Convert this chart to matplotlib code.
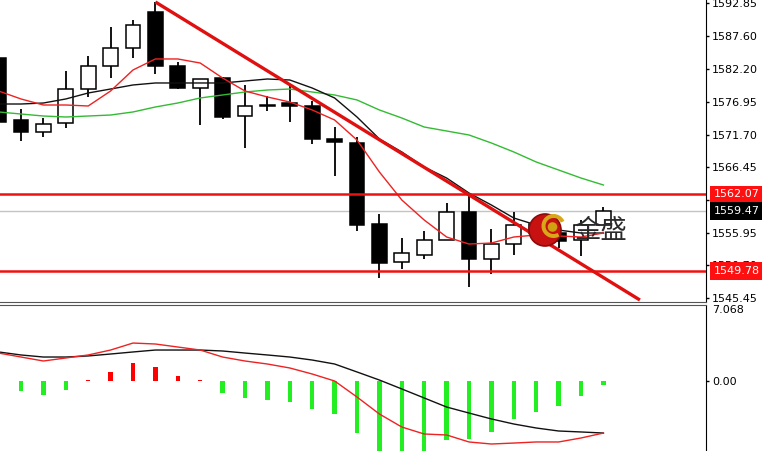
import matplotlib.pyplot as plt
import numpy as np
from matplotlib.patches import Circle, Wedge
from matplotlib.transforms import blended_transform_factory

# candles (index 0 is cut off at the left edge)
opens = [1584.0, 1574.04, 1572.11, 1573.56, 1579.02, 1582.72, 1585.62, 1591.40, 1582.72, 1579.18,
         1580.79, 1574.68, 1576.50, 1576.77, 1576.29, 1570.99, 1570.40, 1557.32, 1551.21, 1552.34,
         1554.75, 1559.25, 1551.69, 1554.10, 1557.30, 1555.80, 1554.75, 1557.16]
closes = [1573.72, 1572.11, 1573.40, 1579.02, 1582.72, 1585.62, 1589.31, 1582.72, 1579.18, 1580.63,
          1574.52, 1576.29, 1576.30, 1576.29, 1570.99, 1570.50, 1557.16, 1551.05, 1552.66, 1554.75,
          1559.25, 1551.69, 1554.10, 1557.16, 1555.90, 1554.60, 1557.16, 1559.47]
highs = [1584.3, 1575.81, 1574.36, 1581.92, 1584.33, 1588.99, 1590.12, 1593.01, 1583.36, 1580.63,
         1580.95, 1579.67, 1577.90, 1579.51, 1577.09, 1572.91, 1571.31, 1558.93, 1555.07, 1556.19,
         1560.70, 1561.98, 1556.52, 1559.25, 1558.50, 1556.50, 1558.00, 1560.05]
lows = [1573.5, 1570.66, 1571.31, 1572.75, 1577.74, 1580.79, 1584.01, 1581.43, 1579.02, 1573.24,
        1574.20, 1569.54, 1575.49, 1573.72, 1570.18, 1565.04, 1556.19, 1548.64, 1550.09, 1551.69,
        1554.75, 1547.19, 1549.28, 1552.34, 1554.50, 1553.50, 1552.17, 1557.16]

# moving averages
ma_red = [1578.70, 1577.42, 1576.45, 1576.45, 1576.29, 1578.70, 1582.08, 1583.85, 1583.85, 1583.20,
          1580.79, 1578.70, 1577.74, 1576.93, 1575.65, 1574.04, 1570.82, 1565.68, 1561.18, 1557.96,
          1555.23, 1554.10, 1554.26, 1555.23, 1555.55, 1555.39, 1555.23, 1555.87]
ma_black = [1576.61, 1576.61, 1576.77, 1577.42, 1578.38, 1579.02, 1579.67, 1579.99, 1579.99, 1579.99,
            1579.99, 1580.31, 1580.63, 1580.47, 1579.18, 1577.58, 1574.52, 1570.99, 1568.90, 1566.48,
            1564.71, 1562.30, 1560.37, 1558.28, 1557.16, 1556.35, 1555.87, 1555.87]
ma_green = [1575.33, 1575.00, 1574.68, 1574.52, 1574.68, 1574.84, 1575.33, 1576.13, 1576.77, 1577.58,
            1578.06, 1578.54, 1578.86, 1579.02, 1578.54, 1578.06, 1577.26, 1575.65, 1574.36, 1572.91,
            1572.27, 1571.63, 1570.34, 1568.90, 1567.29, 1566.00, 1564.71, 1563.59]

# MACD panel
hist = [np.nan, -0.93, -1.30, -0.84, 0.09, 0.84, 1.67, 1.30, 0.47, 0.09,
        -1.12, -1.58, -1.77, -1.95, -2.60, -3.07, -4.84, -7.2, -7.0, -6.9,
        -5.49, -5.40, -4.74, -3.53, -2.88, -2.33, -1.40, -0.37]
macd_black = [2.70, 2.42, 2.23, 2.23, 2.33, 2.51, 2.70, 2.88, 2.88, 2.88,
              2.79, 2.60, 2.42, 2.23, 1.95, 1.58, 0.84, 0.09, -0.74, -1.58,
              -2.42, -2.98, -3.53, -4.00, -4.37, -4.65, -4.74, -4.84]
macd_red = [2.60, 2.23, 1.86, 2.14, 2.42, 2.88, 3.53, 3.44, 3.16, 2.88,
            2.23, 1.86, 1.58, 1.21, 0.65, 0.00, -1.49, -3.07, -4.28, -4.93,
            -5.02, -5.67, -5.86, -5.77, -5.67, -5.67, -5.30, -4.84]

price_ticks = [1592.85, 1587.60, 1582.20, 1576.95, 1571.70, 1566.45, 1561.20, 1555.95, 1550.70, 1545.45]
resistance = 1562.07
support = 1549.78
last_price = 1559.47
trend_x = [7, 28.63]
trend_y = [1593.01, 1545.1]

x = np.arange(len(opens))
o = np.array(opens)
c = np.array(closes)

fig = plt.figure(figsize=(7.62, 4.51), dpi=100)
ax = fig.add_axes([0, 149 / 451, 706 / 762, 302 / 451])
ax2 = fig.add_axes([0, 0, 706 / 762, 146 / 451])

xlim = (0.0625, 31.58)

# ---- price panel ----
ax.vlines(x, lows, highs, color='black', lw=1.3, zorder=2)
fill = ['white' if cc >= oo else 'black' for oo, cc in zip(o, c)]
ax.bar(x, np.abs(c - o), bottom=np.minimum(o, c), width=0.66, color=fill,
       edgecolor='black', linewidth=1.1, zorder=3)

ax.plot(x, ma_green, color='#33bb33', lw=1, zorder=4)
ax.plot(x, ma_black, color='#111111', lw=1, zorder=4)
ax.plot(x, ma_red, color='#ee2222', lw=1, zorder=4)

ax.axhline(last_price, color='#c4c4c4', lw=1, zorder=1)
ax.axhline(resistance, color='#ee1111', lw=1.8, zorder=5)
ax.axhline(support, color='#ee1111', lw=1.8, zorder=5)
ax.plot(trend_x, trend_y, color='#e01010', lw=2.4, zorder=6, solid_capstyle='butt')

ax.set_xlim(*xlim)
ax.set_ylim(1544.78, 1593.33)
ax.set_xticks([])
ax.yaxis.tick_right()
ax.set_yticks(price_ticks)
ax.set_yticklabels(['%.2f' % v for v in price_ticks])
ax.tick_params(axis='y', length=2.5, width=1, pad=2, labelsize=8)
for s in ['left', 'top']:
    ax.spines[s].set_visible(False)
ax.spines['right'].set_color('black')
ax.spines['bottom'].set_color('#555555')

# price tags on the axis (they sit over the 1561.20 / 1550.70 labels, as in MT4)
tr = blended_transform_factory(ax.transAxes, ax.transData)
for val, bg in [(resistance, '#ff1010'), (last_price, 'black'), (support, '#ff1010')]:
    ax.text(1.0 + 8 / 706, val, '%.2f' % val, transform=tr, ha='left', va='center', fontsize=8,
            color='white', zorder=10, clip_on=False,
            bbox=dict(boxstyle='square,pad=0.35', facecolor=bg, edgecolor='none'))

# ---- MACD panel ----
hcol = ['#ff0000' if (h == h and h > 0) else '#22ee22' for h in hist]
ax2.bar(x, hist, width=0.19, color=hcol, zorder=2)
ax2.plot(x, macd_black, color='#111111', lw=1, zorder=3)
ax2.plot(x, macd_red, color='#ee2222', lw=1, zorder=3)
ax2.set_xlim(*xlim)
ax2.set_ylim(-6.51, 7.068)
ax2.set_xticks([])
ax2.yaxis.tick_right()
ax2.set_yticks([0])
ax2.set_yticklabels(['0.00'])
ax2.tick_params(axis='y', length=2.5, width=1, pad=2, labelsize=8)
for s in ['left', 'bottom']:
    ax2.spines[s].set_visible(False)
ax2.spines['top'].set_color('#555555')
ax2.spines['right'].set_color('black')
ax2.text(1.0 + 6 / 706, 7.068, '7.068', transform=blended_transform_factory(ax2.transAxes, ax2.transData),
         ha='left', va='top', fontsize=8, clip_on=False)

# ---- watermark logo ----
inch = fig.dpi_scale_trans
fig.add_artist(Circle((5.45, 2.21), 0.16, transform=inch, facecolor='#c81212', edgecolor='#8e0a0a', lw=1.2, zorder=20))
fig.add_artist(Wedge((5.535, 2.25), 0.12, 25, 300, width=0.04, transform=inch, facecolor='#d8a818', edgecolor='none', zorder=21))
fig.add_artist(Circle((5.525, 2.24), 0.048, transform=inch, facecolor='#d0a010', edgecolor='none', zorder=22))
fig.text(6.01, 2.20, '金盛', transform=inch, fontsize=19, color='#2a2a2a', ha='center', va='center',
         family=['Noto Sans CJK SC', 'DejaVu Sans'], zorder=23)

fig.savefig('out.png', dpi=100)
